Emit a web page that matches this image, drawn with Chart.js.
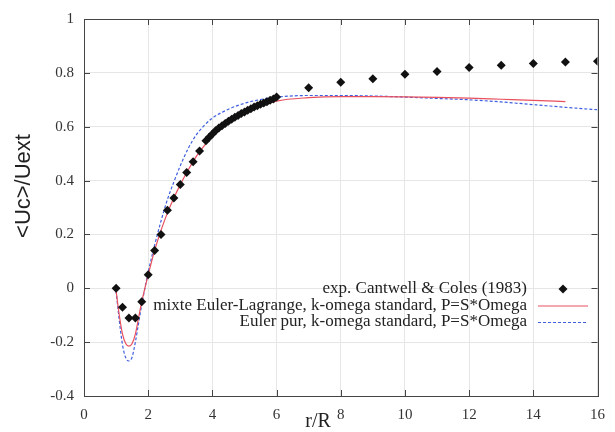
<!DOCTYPE html>
<html>
<head>
<meta charset="utf-8">
<title>Vitesse axiale</title>
<script src="https://cdn.jsdelivr.net/npm/chart.js@4.4.1/dist/chart.umd.min.js"></script>
<style>
  body { margin: 0; background: #fff; }
  canvas { display: block; }
</style>
</head>
<body>
<canvas id="profil" width="615" height="432"></canvas>
<script>
/* mesures de Cantwell & Coles */
const expR = [1.0, 1.2, 1.4, 1.6, 1.8, 2.0, 2.2, 2.4, 2.6, 2.8, 3.0, 3.2, 3.4, 3.6, 3.8,
  3.9, 4.0, 4.1, 4.2, 4.3, 4.4, 4.5, 4.6, 4.7, 4.8, 4.9, 5.0, 5.1, 5.2, 5.3, 5.4,
  5.5, 5.6, 5.7, 5.8, 5.9, 6.0, 7, 8, 9, 10, 11, 12, 13, 14, 15, 16];
const expU = [0.0, -0.07, -0.11, -0.11, -0.05, 0.05, 0.14, 0.2, 0.29, 0.335, 0.385, 0.43, 0.47, 0.51, 0.548,
  0.561, 0.573, 0.585, 0.595, 0.604, 0.612, 0.62, 0.628, 0.635, 0.642, 0.649, 0.655, 0.661, 0.667, 0.673, 0.678,
  0.683, 0.688, 0.693, 0.698, 0.703, 0.71, 0.745, 0.765, 0.778, 0.795, 0.805, 0.82, 0.828, 0.835, 0.84, 0.843];

/* calcul mixte Euler-Lagrange */
const mixteR = [1.0, 1.1, 1.2, 1.3, 1.4, 1.5, 1.6, 1.7, 1.8, 2.0, 2.2, 2.4, 2.6, 2.8, 3.0,
  3.25, 3.5, 3.75, 4.0, 4.5, 5.0, 5.5, 6.0, 7, 8, 9, 10, 11, 12, 13, 14, 15];
const mixteU = [-0.01, -0.1, -0.17, -0.205, -0.215, -0.205, -0.17, -0.11, -0.05, 0.05, 0.14, 0.215, 0.28, 0.335, 0.385,
  0.44, 0.49, 0.53, 0.565, 0.615, 0.648, 0.675, 0.695, 0.708, 0.712, 0.712, 0.711, 0.709, 0.706, 0.702, 0.698, 0.693];

/* calcul Euler pur */
const eulerR = [1.0, 1.1, 1.2, 1.3, 1.4, 1.5, 1.6, 1.7, 1.8, 2.0, 2.2, 2.4, 2.6, 2.8, 3.0,
  3.25, 3.5, 3.75, 4.0, 4.5, 5.0, 5.5, 6.0, 7, 8, 9, 10, 11, 12, 13, 14, 15, 16];
const eulerU = [-0.01, -0.12, -0.21, -0.258, -0.27, -0.255, -0.2, -0.13, -0.06, 0.06, 0.16, 0.25, 0.33, 0.395, 0.455,
  0.52, 0.57, 0.605, 0.632, 0.665, 0.687, 0.701, 0.71, 0.716, 0.716, 0.714, 0.71, 0.705, 0.7, 0.692, 0.682, 0.672, 0.663];

const labels = [
  'exp. Cantwell & Coles (1983)',
  'mixte Euler-Lagrange, k-omega standard, P=S*Omega',
  'Euler pur, k-omega standard, P=S*Omega'
];

const toPoints = (xs, ys) => xs.map((x, i) => ({x: x, y: ys[i]}));

const serif = '"Liberation Serif", "DejaVu Serif", serif';
const sans = '"Liberation Sans", Arial, sans-serif';

// cadre + petites graduations vers l'interieur (style gnuplot)
const cadre = {
  id: 'cadre',
  afterDatasetsDraw(chart) {
    const ctx = chart.ctx;
    const a = chart.chartArea;
    const xs = chart.scales.x, ys = chart.scales.y;
    const len = 6;
    ctx.save();
    ctx.strokeStyle = '#444';
    ctx.lineWidth = 1;
    ctx.beginPath();
    xs.ticks.forEach(t => {
      const px = Math.round(xs.getPixelForValue(t.value)) + 0.5;
      ctx.moveTo(px, a.bottom); ctx.lineTo(px, a.bottom - len);
      ctx.moveTo(px, a.top); ctx.lineTo(px, a.top + len);
    });
    ys.ticks.forEach(t => {
      const py = Math.round(ys.getPixelForValue(t.value)) + 0.5;
      ctx.moveTo(a.left, py); ctx.lineTo(a.left + len, py);
      ctx.moveTo(a.right, py); ctx.lineTo(a.right - len, py);
    });
    ctx.stroke();
    ctx.strokeRect(Math.round(a.left) + 0.5, Math.round(a.top) + 0.5,
      Math.round(a.width), Math.round(a.height));
    ctx.restore();
  }
};

// legende dans le graphe, texte aligne a droite
const legende = {
  id: 'legende',
  afterDraw(chart) {
    const ctx = chart.ctx;
    ctx.save();
    ctx.font = '17px ' + serif;
    ctx.textAlign = 'right';
    ctx.textBaseline = 'middle';
    chart.data.datasets.forEach((ds, i) => {
      const y = 289 + i * 16.5;
      ctx.fillStyle = '#222';
      ctx.fillText(ds.label, 527, y);
      if (i === 0) {
        const r = 4.5;
        ctx.fillStyle = ds.pointBackgroundColor;
        ctx.beginPath();
        ctx.moveTo(563, y - r); ctx.lineTo(563 + r, y);
        ctx.lineTo(563, y + r); ctx.lineTo(563 - r, y);
        ctx.closePath();
        ctx.fill();
      } else {
        ctx.strokeStyle = ds.borderColor;
        ctx.lineWidth = ds.borderWidth;
        ctx.setLineDash(ds.borderDash || []);
        ctx.beginPath();
        ctx.moveTo(538, y + 0.5); ctx.lineTo(588, y + 0.5);
        ctx.stroke();
        ctx.setLineDash([]);
      }
    });

    // titres des axes
    ctx.fillStyle = '#222';
    ctx.textAlign = 'center';
    ctx.font = '20px ' + serif;
    ctx.fillText('r/R', 318, 422);
    ctx.translate(24, 186);
    ctx.rotate(-Math.PI / 2);
    ctx.font = '22px ' + sans;
    ctx.fillText('<Uc>/Uext', 0, 0);
    ctx.restore();
  }
};

const config = {
  type: 'scatter',
  data: {
    datasets: [{
      label: labels[0],
      data: toPoints(expR, expU),
      pointStyle: 'rectRot',
      pointRadius: 4.5,
      pointBackgroundColor: '#111',
      pointBorderColor: '#111',
      pointBorderWidth: 0,
      showLine: false
    }, {
      label: labels[1],
      data: toPoints(mixteR, mixteU),
      showLine: true,
      borderColor: '#e8505e',
      borderWidth: 1.2,
      pointRadius: 0,
      cubicInterpolationMode: 'monotone'
    }, {
      label: labels[2],
      data: toPoints(eulerR, eulerU),
      showLine: true,
      borderColor: '#3f5fe0',
      borderWidth: 1.2,
      borderDash: [3, 2],
      pointRadius: 0,
      cubicInterpolationMode: 'monotone'
    }]
  },
  options: {
    responsive: false,
    animation: false,
    devicePixelRatio: 1,
    layout: { padding: { left: 0, top: 16, right: 9, bottom: 0 } },
    plugins: {
      legend: { display: false },
      tooltip: { enabled: false }
    },
    scales: {
      x: {
        type: 'linear',
        min: 0, max: 16,
        afterFit: s => { s.height = 36; },
        grid: { color: '#e6e6e6', drawTicks: false },
        border: { display: false },
        ticks: {
          stepSize: 2,
          padding: 10,
          color: '#333',
          font: { family: serif, size: 15 }
        }
      },
      y: {
        type: 'linear',
        min: -0.4, max: 1,
        afterFit: s => { s.width = 84; },
        grid: { color: '#e6e6e6', drawTicks: false },
        border: { display: false },
        ticks: {
          stepSize: 0.2,
          padding: 10,
          color: '#333',
          font: { family: serif, size: 15 },
          callback: v => String(Math.round(v * 10) / 10)
        }
      }
    }
  },
  plugins: [cadre, legende]
};

var myChart = new Chart(document.getElementById('profil'), config);
</script>
</body>
</html>
